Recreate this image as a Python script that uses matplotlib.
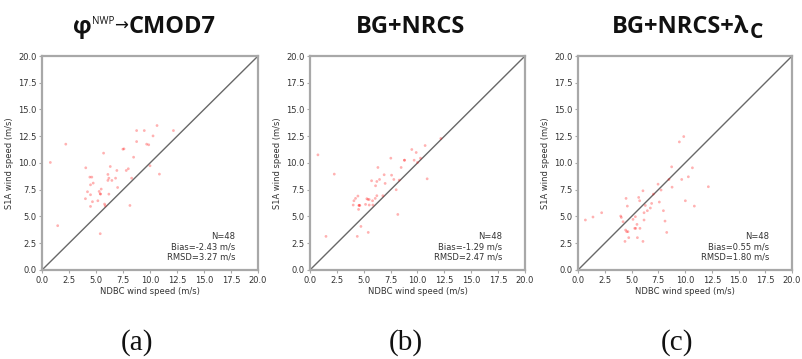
"""Comparación de velocidad de viento S1A frente a boyas NDBC (tres métodos)."""

import matplotlib
matplotlib.use("Agg")
import matplotlib.pyplot as plt

# DATOS

ndbc_a = [0.77, 1.45, 2.2, 4.02, 4.05, 4.21, 4.43, 4.49, 4.49, 4.49, 4.61, 4.67,
          4.74, 5.17, 5.29, 5.39, 5.39, 5.42, 5.48, 5.70, 5.79, 5.85, 6.1, 6.1,
          6.19, 6.19, 6.32, 6.47, 6.81, 6.93, 7.0, 7.49, 7.59, 7.80, 7.99, 8.14,
          8.30, 8.48, 8.76, 8.76, 9.47, 9.69, 9.88, 10.0, 10.28, 10.65, 10.87, 12.17]
s1a_a = [10.05, 4.14, 11.76, 6.66, 9.55, 7.31, 8.68, 7.96, 7.03, 5.94, 8.68, 6.38,
         8.12, 6.47, 7.34, 7.12, 3.39, 7.09, 7.56, 10.92, 6.16, 6.0, 8.93, 8.37,
         8.58, 7.09, 9.67, 8.37, 8.58, 9.3, 7.71, 11.29, 11.32, 9.3, 9.46, 6.03,
         8.58, 10.54, 13.03, 12.0, 13.03, 11.76, 11.7, 9.74, 12.53, 13.5, 8.96, 13.03]

ndbc_b = [0.74, 2.26, 1.49, 4.02, 4.09, 4.24, 4.46, 4.52, 4.55, 4.64, 4.40, 4.74,
          5.17, 5.29, 5.39, 5.51, 5.42, 5.51, 5.73, 5.85, 5.82, 6.07, 6.10, 6.22,
          6.22, 6.32, 6.47, 6.78, 6.90, 6.99, 7.52, 7.59, 7.80, 8.02, 8.17, 8.30,
          8.48, 8.79, 8.79, 9.47, 9.69, 9.88, 10.0, 10.28, 10.71, 10.90, 12.17, 4.58]
s1a_b = [10.76, 8.96, 3.14, 6.07, 6.47, 6.69, 6.91, 5.66, 6.03, 6.03, 3.14, 4.07,
         6.13, 6.66, 6.59, 6.59, 3.51, 6.07, 8.34, 6.07, 6.47, 6.69, 7.87, 8.27,
         6.94, 9.58, 8.46, 6.94, 8.90, 8.09, 10.45, 8.86, 8.46, 7.50, 5.19, 8.40,
         9.58, 10.26, 10.26, 11.26, 10.26, 10.98, 10.05, 10.45, 11.63, 8.52, 12.29, 6.05]

ndbc_c = [0.69, 1.40, 2.21, 3.99, 4.05, 4.21, 4.39, 4.49, 4.45, 4.55, 4.61, 4.67,
          4.74, 5.14, 5.36, 5.30, 5.39, 5.51, 5.55, 5.67, 5.76, 5.79, 6.07, 6.07,
          6.17, 6.17, 6.29, 6.48, 6.76, 6.88, 7.04, 7.48, 7.60, 7.76, 7.98, 8.13,
          8.29, 8.50, 8.79, 8.75, 9.47, 9.69, 9.88, 10.03, 10.31, 10.69, 10.87, 12.18]
s1a_c = [4.67, 4.95, 5.35, 5.04, 4.91, 4.51, 2.67, 6.69, 3.73, 3.58, 5.97, 3.58,
         3.02, 4.73, 4.98, 3.89, 3.89, 4.26, 3.02, 6.78, 6.47, 3.89, 7.40, 2.67,
         5.35, 4.67, 6.03, 5.54, 5.79, 6.22, 7.09, 8.02, 6.35, 7.47, 5.54, 4.57,
         3.51, 8.46, 7.74, 9.64, 11.97, 8.46, 12.47, 6.47, 8.71, 9.55, 5.97, 7.78]

panel_stats = [
    ("48", "-2.43", "3.27"),
    ("48", "-1.29", "2.47"),
    ("48", "0.55", "1.80"),
]
panel_letters = ["(a)", "(b)", "(c)"]
ticks = [0.0, 2.5, 5.0, 7.5, 10.0, 12.5, 15.0, 17.5, 20.0]

# Cada título se compone de trozos: (texto, tamaño, desplazamiento vertical en px, peso)
panel_titles = [
    [("φ", 17, 0, "bold"), ("NWP", 7, 9, "normal"), ("→", 12, 2, "normal"), ("CMOD7", 17, 0, "bold")],
    [("BG+NRCS", 17, 0, "bold")],
    [("BG+NRCS+λ", 17, 0, "bold"), ("C", 15, -5, "bold")],
]

TITLE_FONT = ["Open Sans", "DejaVu Sans"]


# FUNCIONES AUXILIARES

def draw_title(fig, pieces, center_x, baseline_y):
    """Dibuja un título hecho de trozos con distinto tamaño y altura, centrado."""
    renderer = fig.canvas.get_renderer()
    fig_w, fig_h = fig.bbox.width, fig.bbox.height
    texts = []
    widths = []
    for text, size, _, weight in pieces:
        t = fig.text(0, 0, text, fontsize=size, fontweight=weight, family=TITLE_FONT,
                     color="#111111", ha="left", va="baseline")
        texts.append(t)
        widths.append(t.get_window_extent(renderer).width)

    x_px = center_x * fig_w - sum(widths) / 2
    for t, w, piece in zip(texts, widths, pieces):
        dy = piece[2]
        t.set_position((x_px / fig_w, baseline_y + dy / fig_h))
        x_px += w


# FIGURA

fig = plt.figure(figsize=(8.02, 3.59), dpi=100)

axes_rects = [
    (0.0524, 0.248, 0.2693, 0.596),
    (0.3865, 0.248, 0.2681, 0.596),
    (0.7207, 0.248, 0.2669, 0.596),
]
title_x = [0.180, 0.512, 0.857]
letter_x = [0.171, 0.506, 0.844]

series = [(ndbc_a, s1a_a), (ndbc_b, s1a_b), (ndbc_c, s1a_c)]
spine_color = "#a8a8a8"

for i, rect in enumerate(axes_rects):
    ax = fig.add_axes(rect)
    x, y = series[i]
    ax.plot([0, 20], [0, 20], color="#686868", lw=1.0, zorder=1)
    ax.scatter(x, y, s=4, color="red", alpha=0.3, edgecolors="none", zorder=2)
    ax.set_xlim(0, 20)
    ax.set_ylim(0, 20)
    ax.set_xticks(ticks)
    ax.set_yticks(ticks)
    ax.set_xticklabels([f"{t:.1f}" for t in ticks])
    ax.set_yticklabels([f"{t:.1f}" for t in ticks])
    ax.tick_params(labelsize=6, colors="#333333", length=2.5, width=0.8, pad=1.5)
    ax.tick_params(axis="both", color=spine_color)
    for sp in ax.spines.values():
        sp.set_color(spine_color)
        sp.set_linewidth(1.6)
    ax.set_xlabel("NDBC wind speed (m/s)", fontsize=6, color="#333333", labelpad=2)
    ax.set_ylabel("S1A wind speed (m/s)", fontsize=6, color="#333333", labelpad=3)

    n, bias, rmsd = panel_stats[i]
    ax.text(0.895, 0.04, f"N={n}\nBias={bias} m/s\nRMSD={rmsd} m/s",
            transform=ax.transAxes, ha="right", va="bottom",
            multialignment="right", fontsize=6, color="#333333", linespacing=1.15)

    draw_title(fig, panel_titles[i], title_x[i], 0.908)
    fig.text(letter_x[i], 0.047, panel_letters[i], ha="center", va="center",
             fontsize=21, family="Liberation Serif", color="#111111")

fig.savefig("out.png", dpi=100)
plt.close(fig)
